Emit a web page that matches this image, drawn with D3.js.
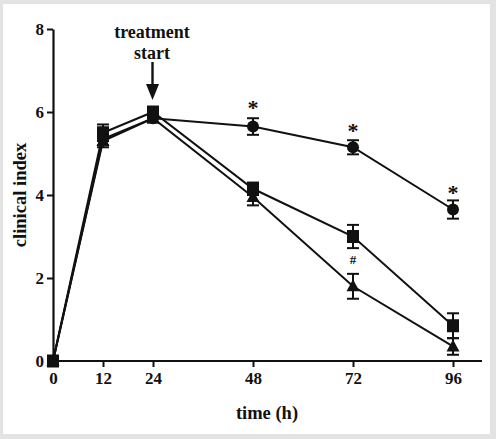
<!DOCTYPE html>
<html><head><meta charset="utf-8">
<script src="https://cdn.jsdelivr.net/npm/d3@7"></script>
<style>
body{margin:0;background:#e3e3e3;}
svg{display:block;}
text{font-family:"Liberation Serif","Times New Roman",serif;font-weight:bold;fill:#111;}
</style></head><body>
<svg id="c" width="496" height="439"></svg>
<script>
const times = [0, 12, 24, 48, 72, 96];
const xTicks = [0, 12, 24, 48, 72, 96];
const yTicks = [0, 2, 4, 6, 8];
const circleMean = [0, 5.35, 5.85, 5.65, 5.15, 3.65];
const circleErr  = [0, 0.15, 0.1, 0.2, 0.17, 0.22];
const squareMean = [0, 5.5, 6.0, 4.15, 3.0, 0.85];
const squareErr  = [0, 0.2, 0.1, 0.15, 0.28, 0.3];
const triMean    = [0, 5.3, 5.85, 3.95, 1.8, 0.35];
const triErr     = [0, 0.15, 0.1, 0.2, 0.3, 0.2];
const starTimes  = [48, 72, 96];
const starValues = [6.3, 5.75, 4.25];
const hashTime = 72, hashValue = 2.45;

const svg = d3.select("#c");
svg.append("rect").attr("x",3).attr("y",4).attr("width",487).attr("height",430).attr("fill","#fff");

const x = d3.scaleLinear().domain([0,96]).range([53,453]);
const y = d3.scaleLinear().domain([0,8]).range([361,29]);

// axes
const xAxis = svg.append("g").attr("transform","translate(0,361)")
  .call(d3.axisBottom(x).tickValues(xTicks).tickSize(6).tickPadding(3).tickSizeOuter(0));
xAxis.select(".domain").attr("d","M52,0H482").attr("stroke","#111").attr("stroke-width",2.2);
xAxis.selectAll(".tick line").attr("stroke","#111").attr("stroke-width",2);
xAxis.selectAll("text").attr("font-size",17).attr("dy","0.85em");

const yAxis = svg.append("g").attr("transform","translate(53,0)")
  .call(d3.axisLeft(y).tickValues(yTicks).tickSize(6).tickPadding(3).tickSizeOuter(0));
yAxis.select(".domain").attr("stroke","#111").attr("stroke-width",2.2);
yAxis.selectAll(".tick line").attr("stroke","#111").attr("stroke-width",2);
yAxis.selectAll("text").attr("font-size",17);

// labels
svg.append("text").attr("x",267).attr("y",419).attr("text-anchor","middle").attr("font-size",18.5).text("time (h)");
svg.append("text").attr("transform","translate(26,195) rotate(-90)").attr("text-anchor","middle").attr("font-size",18.5).text("clinical index");

// treatment annotation
svg.append("text").attr("x",152).attr("y",38).attr("text-anchor","middle").attr("font-size",18).text("treatment");
svg.append("text").attr("x",152).attr("y",59).attr("text-anchor","middle").attr("font-size",18).text("start");
svg.append("line").attr("x1",x(24)-0.5).attr("x2",x(24)-0.5).attr("y1",62).attr("y2",87).attr("stroke","#111").attr("stroke-width",2.4);
svg.append("path").attr("d",`M${x(24)-7},84 L${x(24)+6},84 L${x(24)-0.5},100 Z`).attr("fill","#111");

const line = d3.line().x((d,i)=>x(times[i])).y(d=>y(d));
const series = [
  {mean: triMean, err: triErr, shape: "tri"},
  {mean: squareMean, err: squareErr, shape: "sq"},
  {mean: circleMean, err: circleErr, shape: "circ"}
];
series.forEach(s=>{
  svg.append("path").datum(s.mean).attr("d",line).attr("fill","none").attr("stroke","#111").attr("stroke-width",2);
});
series.forEach(s=>{
  const g = svg.append("g");
  s.mean.forEach((m,i)=>{
    const e = s.err[i];
    if(e>0){
      const cx = x(times[i]);
      g.append("line").attr("x1",cx).attr("x2",cx).attr("y1",y(m+e)).attr("y2",y(m-e)).attr("stroke","#111").attr("stroke-width",2);
      [m+e,m-e].forEach(v=>g.append("line").attr("x1",cx-6).attr("x2",cx+6).attr("y1",y(v)).attr("y2",y(v)).attr("stroke","#111").attr("stroke-width",2));
    }
  });
  s.mean.forEach((m,i)=>{
    const cx = x(times[i]), cy = y(m);
    if(s.shape==="circ") g.append("circle").attr("cx",cx).attr("cy",cy).attr("r",6).attr("fill","#111");
    else if(s.shape==="sq") g.append("rect").attr("x",cx-6).attr("y",cy-6.5).attr("width",12).attr("height",13).attr("fill","#111");
    else g.append("path").attr("d",`M${cx},${cy-7} L${cx+6.5},${cy+5} L${cx-6.5},${cy+5} Z`).attr("fill","#111");
  });
});

// significance marks
starTimes.forEach((t,i)=>{
  svg.append("text").attr("x",x(t)).attr("y",y(starValues[i])).attr("text-anchor","middle")
    .attr("dy","0.7em").attr("font-size",22).attr("font-weight","normal").text("*");
});
svg.append("text").attr("x",x(hashTime)).attr("y",y(hashValue)).attr("text-anchor","middle")
  .attr("dy","0.35em").attr("font-size",13).attr("font-weight","normal").text("#");
</script>
</body></html>
